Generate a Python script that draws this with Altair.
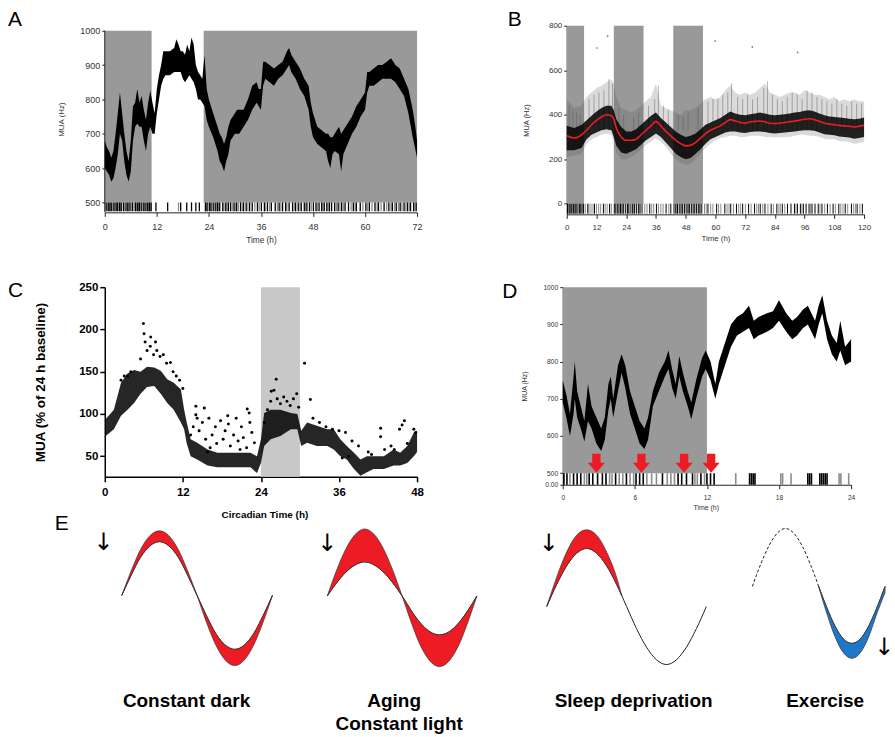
import altair as alt
import pandas as pd

FONT = "Liberation Sans"
TXT = "#333333"
SHADE = "#999999"
RED = "#ED1C24"
BLUE = "#1E78C8"

# ---------------- Panel A : MUA (Hz) over 72 h ----------------
A_t = [0, 0.5, 1, 1.5, 2, 2.5, 3, 3.5, 4, 4.5,
       5, 5.5, 6, 6.5, 7, 7.5, 8, 8.5, 9, 9.5,
       10, 10.5, 11, 11.5, 12, 12.5, 13, 13.5, 14, 15,
       16, 16.5, 17, 17.5, 18, 18.5, 19, 19.5, 20, 20.5,
       21, 21.5, 22, 22.5, 23, 23.5, 24, 25, 26, 26.5,
       27, 27.5, 28, 28.5, 29, 30, 30.5, 31, 32, 33,
       34, 35, 35.5, 36, 36.5, 37, 38, 39, 40, 41,
       42, 42.5, 43, 44, 45, 46, 47, 47.5, 48, 49,
       50, 51, 51.5, 52, 52.5, 53, 54, 54.5, 55, 56,
       57, 58, 59, 60, 60.5, 61, 62, 63, 64, 65,
       66, 67, 68, 69, 70, 71, 71.5, 72]
A_lo = [600, 590, 580, 560, 570, 600, 640, 700, 680, 620,
        580, 560, 590, 680, 720, 730, 720, 720, 680, 650,
        700, 720, 700, 700, 760, 800, 840, 860, 870, 870,
        880, 880, 880, 880, 860, 850, 860, 870, 860, 850,
        830, 800, 800, 790, 780, 740, 720, 690, 650, 620,
        610, 590, 620, 640, 680, 700, 700, 700, 720, 740,
        770, 790, 780, 770, 840, 860, 850, 840, 860, 870,
        890, 900, 880, 860, 830, 810, 770, 720, 690, 670,
        660, 650, 620, 600, 640, 650, 640, 590, 640, 670,
        700, 720, 750, 770, 820, 840, 840, 850, 860, 860,
        860, 850, 830, 810, 760, 690, 660, 630]
A_hi = [680, 660, 650, 630, 650, 700, 760, 820, 760, 700,
        650, 620, 680, 780, 790, 830, 790, 810, 770, 740,
        790, 825, 790, 760, 830, 870, 900, 940, 940, 940,
        950, 975, 960, 940, 940, 930, 960, 940, 980, 960,
        900, 880, 870, 860, 930, 830, 800, 760, 720, 700,
        690, 670, 690, 720, 740, 760, 770, 770, 770, 800,
        840, 850, 830, 830, 910, 910, 900, 890, 900, 910,
        940, 950, 930, 910, 890, 860, 840, 790, 760, 720,
        710, 700, 700, 690, 690, 700, 720, 700, 710, 730,
        750, 780, 800, 820, 880, 880, 890, 900, 900, 910,
        920, 900, 890, 860, 830, 770, 730, 680]
A_dark_start = [0, 22.8]
A_dark_end = [10.8, 72]
A_act_black = [0.3, 0.8, 1.2, 1.5, 2.1, 2.6, 2.9, 3.4, 3.8, 4.3, 4.9, 5.3, 5.8, 6.4,
               7.1, 7.6, 8.0, 8.4, 9.0, 9.5, 9.9, 10.3, 10.7, 11.8, 14.5, 17.5, 18.9,
               20.0, 21.0, 21.8, 23.2, 23.6, 24.1, 24.5, 25.0, 25.6, 26.0, 26.5, 27.2,
               27.9, 28.5, 29.0, 29.8, 30.4, 31.3, 32.0, 32.6, 33.4, 34.0, 35.2, 36.1,
               36.8, 37.5, 38.4, 39.3, 40.2, 41.0, 41.7, 42.5, 43.3, 44.0, 44.6, 45.3,
               46.0, 46.6, 47.2, 48.1, 48.7, 49.4, 50.0, 50.6, 51.2, 51.8, 52.3, 53.0,
               53.8, 54.6, 55.4, 56.2, 57.3, 58.0, 58.9, 60.2, 61.0, 62.3, 63.1, 64.4,
               65.5, 66.3, 67.2, 68.1, 69.0, 69.8, 70.5, 71.2, 71.8]
A_act_gray = [0.5, 1.0, 1.8, 2.3, 3.1, 3.6, 4.6, 5.5, 6.1, 6.8, 7.3, 7.8, 8.7, 9.2,
              10.0, 10.5, 17.0, 23.4, 24.3, 25.3, 26.2, 27.5, 28.2, 29.4, 30.1, 30.8,
              31.7, 33.0, 34.6, 35.6, 37.0, 38.0, 39.8, 40.6, 42.0, 43.7, 45.0, 46.3,
              47.6, 49.0, 50.3, 51.5, 53.4, 54.2, 55.0, 56.8, 57.7, 59.5, 60.6, 61.6,
              62.8, 63.7, 65.0, 66.0, 66.8, 67.7, 68.5, 69.4, 70.2, 71.5]

# ---------------- Panel B : MUA (Hz) over 120 h ----------------
B_t = [0, 3, 6, 8, 10, 12, 14, 16, 18, 19,
       20, 22, 24, 26, 28, 30, 32, 34, 36, 38,
       40, 42, 44, 46, 48, 50, 52, 54, 56, 58,
       60, 62, 64, 66, 68, 70, 72, 74, 76, 78,
       80, 82, 84, 86, 88, 90, 92, 94, 96, 98,
       100, 102, 104, 106, 108, 110, 112, 114, 116, 118,
       120]
B_red = [305, 295, 310, 330, 355, 375, 390, 400, 395, 380,
         340, 300, 285, 285, 290, 310, 330, 350, 370, 350,
         325, 305, 285, 270, 260, 262, 275, 295, 315, 330,
         340, 350, 365, 378, 372, 365, 362, 368, 370, 372,
         368, 362, 360, 362, 365, 368, 372, 375, 380, 382,
         378, 370, 362, 358, 355, 352, 350, 348, 345, 348,
         352]
B_core_lo = [240, 240, 250, 290, 310, 320, 330, 335, 330, 300,
             260, 230, 225, 235, 245, 265, 285, 300, 315, 300,
             275, 250, 225, 210, 200, 205, 225, 245, 270, 290,
             300, 310, 320, 325, 325, 320, 318, 322, 325, 325,
             322, 318, 315, 318, 320, 322, 325, 328, 330, 330,
             328, 320, 312, 310, 308, 302, 300, 298, 292, 295,
             300]
B_core_hi = [350, 340, 355, 375, 395, 415, 430, 440, 440, 420,
             380, 345, 325, 325, 335, 355, 375, 395, 410, 385,
             365, 345, 325, 310, 300, 305, 315, 335, 355, 365,
             375, 385, 400, 415, 405, 400, 398, 402, 405, 410,
             405, 400, 398, 400, 402, 405, 410, 412, 418, 420,
             415, 405, 398, 392, 390, 388, 385, 382, 380, 382,
             388]
B_out_lo = [210, 215, 225, 270, 290, 300, 310, 315, 310, 280,
            230, 200, 200, 210, 225, 245, 265, 280, 295, 280,
            255, 225, 200, 185, 175, 180, 200, 225, 250, 270,
            285, 295, 300, 305, 305, 300, 300, 305, 305, 305,
            300, 300, 298, 300, 300, 300, 305, 310, 310, 305,
            305, 300, 292, 290, 290, 282, 280, 278, 270, 272,
            280]
B_out_hi = [470, 430, 440, 480, 500, 520, 530, 545, 560, 540,
            480, 430, 420, 410, 420, 440, 460, 480, 540, 440,
            430, 420, 410, 400, 420, 420, 430, 450, 470, 480,
            470, 480, 510, 530, 500, 490, 500, 490, 500, 520,
            540, 500, 490, 480, 490, 500, 500, 490, 510, 500,
            490, 490, 480, 470, 480, 460, 470, 460, 470, 460,
            460]
B_streak_t = [1, 2.5, 4, 5.5, 9, 11, 13, 15, 17, 18.5,
              21, 23, 27, 29, 33, 35.5, 37, 39, 41, 45,
              47, 49, 53, 57, 59, 61, 63, 65, 66.5, 69,
              71, 73, 75, 77, 79.5, 81, 83, 85, 87, 89,
              91, 93, 95, 97, 99, 101, 103, 105, 107, 109,
              111, 113, 115, 117, 119]
B_streak_hi = [440, 420, 410, 400, 470, 490, 500, 510, 560, 540,
               430, 400, 390, 410, 440, 470, 530, 440, 420, 400,
               390, 410, 430, 460, 470, 470, 490, 500, 540, 480,
               470, 490, 470, 480, 520, 550, 490, 470, 460, 480,
               500, 490, 470, 510, 500, 480, 470, 460, 450, 470,
               450, 440, 460, 450, 450]
B_dot_t = [12.2, 16.5, 59.9, 74.9, 93.2]
B_dot_v = [700, 753, 731, 705, 680]
B_dark_start = [0, 19, 43]
B_dark_end = [7, 31, 55]
B_act_black = [0.3, 0.9, 1.4, 2.0, 2.7, 3.3, 3.8, 4.5, 5.1, 5.7, 6.2, 6.8, 8.5, 11.2,
               14.8, 17.3, 19.2, 19.8, 20.4, 21.1, 21.7, 22.3, 23.0, 23.8, 24.5, 25.1,
               25.9, 26.6, 27.4, 28.1, 28.9, 29.6, 30.4, 33.5, 36.2, 40.1, 42.0, 43.3,
               44.0, 44.7, 45.4, 46.1, 46.8, 47.5, 48.2, 48.9, 49.6, 50.3, 51.0, 51.7,
               52.4, 53.1, 53.8, 54.5, 57.0, 60.5, 63.8, 66.2, 68.5, 71.0, 73.4, 75.8,
               78.1, 80.0, 82.5, 84.8, 87.0, 89.1, 90.5, 91.9, 93.1, 94.3, 95.5, 96.6,
               97.8, 99.0, 100.2, 101.5, 103.0, 105.2, 107.5, 109.8, 112.4, 114.9,
               117.2, 119.3]
B_act_gray = [1.1, 2.4, 3.6, 5.4, 7.5, 9.0, 9.8, 10.6, 12.0, 12.9, 13.7, 15.5, 16.3,
              18.0, 20.7, 22.7, 24.8, 27.0, 29.2, 31.5, 32.4, 34.3, 35.1, 37.0, 38.0,
              38.9, 41.2, 44.4, 46.5, 49.2, 51.4, 53.5, 55.6, 56.3, 58.1, 59.0, 61.3,
              62.2, 64.7, 65.5, 67.3, 69.4, 70.2, 72.1, 74.4, 76.7, 77.4, 79.1, 81.2,
              83.4, 85.6, 86.2, 88.0, 92.5, 94.9, 98.4, 102.2, 104.1, 106.3, 108.4,
              110.6, 111.5, 113.4, 115.8, 116.5, 118.3]

# ---------------- Panel C : MUA (% of 24 h baseline) ----------------
C_t = [0.15, 1.4, 2.5, 3.5, 4.5, 5.5, 6.5, 7.6, 8.6, 9.6,
       10.6, 11.7, 12.2, 12.6, 13.2, 14.2, 15.8, 17.3, 20, 22.4,
       23.4, 24, 24.5, 25.5, 27, 28.6, 29.6, 30.2, 31.1, 32.6,
       34.2, 35.2, 36.2, 37.2, 38.3, 39.3, 40.3, 41.3, 42.9, 44.4,
       45.4, 46.5, 47.5, 48]
C_lo = [74, 82, 98, 105, 113, 124, 132, 133, 124, 113,
        105, 90, 82, 65, 50, 46, 39, 37, 37, 37,
        30, 42, 62, 70, 74, 82, 82, 62, 66, 62,
        62, 58, 50, 46, 35, 27, 31, 35, 35, 39,
        39, 42, 50, 55]
C_hi = [94, 105, 137, 148, 152, 150, 156, 155, 151, 141,
        137, 129, 105, 90, 70, 66, 58, 54, 54, 54,
        50, 70, 101, 105, 105, 101, 100, 80, 90, 86,
        82, 82, 70, 62, 54, 46, 50, 50, 50, 58,
        54, 62, 78, 80]
C_pt_t = [5.94, 6.04, 7.06, 10.1, 30.7, 26.35, 31.6, 29.5, 25.6, 26.0,
          14.0, 15.3, 14.0, 21.9, 22.2, 42.4, 42.4, 46.05, 45.7, 45.3,
          14.5, 15, 15.5, 16, 16.5, 17, 17.2, 17.8, 18.2, 18.5,
          19, 19.3, 19.8, 20.2, 20.5, 21, 21.3, 21.8, 22.3, 22.6,
          23, 16.2, 18.9, 20.8, 15.8, 13.6, 13.2, 14.2, 24.5, 25,
          25.5, 26.5, 27, 27.5, 28, 28.5, 29, 29.8, 5.5, 6.5,
          7, 7.5, 8, 8.5, 9, 6.2, 7.8, 9.5, 10.5, 11,
          11.5, 12, 4, 3.5, 3, 2.5, 32, 33, 34, 35,
          36, 37, 38, 39, 40.5, 41, 43, 44, 44.5, 46.5,
          47.5, 47.8, 37.5, 36.5]
C_pt_v = [207, 195, 191, 161, 160, 141, 117, 124, 127, 128,
          109, 107, 99, 106, 101, 83, 73, 92, 87, 82,
          80, 90, 70, 95, 75, 85, 65, 92, 70, 80,
          88, 62, 75, 95, 68, 85, 72, 60, 90, 78,
          66, 60, 98, 58, 55, 85, 75, 95, 90, 105,
          115, 118, 112, 120, 115, 110, 118, 108, 165, 175,
          180, 170, 175, 168, 170, 185, 185, 160, 150, 145,
          140, 130, 150, 145, 145, 140, 95, 90, 85, 82,
          80, 78, 68, 62, 55, 52, 58, 62, 58, 65,
          82, 78, 50, 48]
C_light_start = [24]
C_light_end = [30]
C_xtitle = "Circadian Time (h)"

# ---------------- Panel D : MUA (Hz) over 24 h ----------------
D_t = [0, 0.3, 0.6, 0.9, 1.0, 1.2, 1.5, 1.8, 2.1, 2.4,
       2.8, 3.2, 3.5, 3.8, 4.0, 4.2, 4.6, 4.9, 5.2, 5.6,
       6.0, 6.4, 6.8, 7.1, 7.5, 8.0, 8.5, 8.8, 9.1, 9.4,
       9.7, 10.0, 10.4, 10.7, 11.1, 11.6, 11.9, 12.3, 12.7, 13.0,
       13.5, 14.0, 14.5, 15.0, 15.5, 15.9, 16.3, 17.0, 17.5, 18.0,
       18.6, 19.1, 19.5, 20.0, 20.4, 21.0, 21.3, 21.6, 22.0, 22.4,
       22.8, 23.1, 23.5, 24.0]
D_lo = [690, 650, 600, 660, 700, 650, 620, 585, 640, 620,
        580, 560, 590, 670, 700, 650, 720, 770, 730, 660,
        620, 580, 565, 590, 680, 720, 760, 780, 730, 700,
        760, 720, 680, 645, 700, 760, 780, 750, 700, 740,
        790, 840, 870, 880, 890, 860, 870, 880, 890, 910,
        880, 860, 870, 890, 900, 860, 900, 930, 860, 820,
        800, 830, 790, 800]
D_hi = [750, 710, 660, 760, 800, 720, 680, 640, 740, 680,
        650, 620, 650, 740, 760, 700, 790, 820, 790, 720,
        680, 640, 620, 650, 720, 770, 800, 830, 780, 740,
        815, 770, 720, 690, 750, 810, 830, 800, 740, 800,
        850, 900, 920, 930, 950, 910, 920, 930, 935, 965,
        930, 910, 920, 940, 950, 910, 950, 978, 910, 870,
        850, 910, 840, 860]
D_dark_start = [0]
D_dark_end = [12]
D_arrow_t = [2.8, 6.55, 10.1, 12.35]
D_arrow_v = [527, 527, 527, 527]
D_act_black = [0.1, 0.35, 0.9, 1.2, 1.5, 2.2, 2.5, 2.9, 3.3, 3.6, 4.4, 5.3, 6.1, 6.4,
               6.7, 8.3, 9.6, 9.9, 10.3, 10.8, 11.5, 12.0, 12.3, 12.6, 15.55, 15.7,
               15.85, 16.0, 20.4, 20.55, 20.7, 21.4, 21.55, 21.7, 21.85, 22.0]
D_act_gray = [0.6, 1.8, 2.0, 3.9, 4.1, 4.7, 5.0, 5.6, 5.9, 7.0, 7.4, 7.8, 8.7, 9.0,
              9.3, 11.0, 11.2, 11.8, 14.4, 18.15, 18.3, 19.0, 23.0, 23.15, 23.8]
D_xtitle = "Time (h)"

# ---------------- Panel E : schematic rhythms ----------------
E_p = [0, 0.0625, 0.125, 0.1875, 0.25, 0.3125, 0.375, 0.4375, 0.5,
       0.5625, 0.625, 0.6875, 0.75, 0.8125, 0.875, 0.9375, 1]
E1_base = [0, .34, .64, .83, .9, .83, .64, .34, 0, -.34, -.64, -.83, -.9, -.83, -.64, -.34, 0]
E1_outer = [0, .41, .77, 1.0, 1.08, 1.0, .77, .41, 0, -.45, -.83, -1.08, -1.17, -1.08, -.83, -.45, 0]
E2_base = [0, .22, .40, .52, .57, .52, .40, .22, 0, -.25, -.46, -.60, -.65, -.60, -.46, -.25, 0]
E2_outer = [0, .43, .79, 1.03, 1.12, 1.03, .79, .43, 0, -.45, -.84, -1.09, -1.18, -1.09, -.84, -.45, 0]
E3_base = [0, .37, .68, .89, .97, .89, .68, .37, 0, -.37, -.68, -.89, -.97, -.89, -.68, -.37, 0]
E3_fill_p = [0, 0.0625, 0.125, 0.1875, 0.25, 0.3125, 0.375, 0.4375, 0.47]
E3_fill_lo = [0, .37, .68, .89, .97, .89, .68, .37, .18]
E3_fill_hi = [0, .49, .91, 1.19, 1.28, 1.19, .91, .49, .18]
E4_base = [0, .37, .68, .89, .97, .89, .68, .37, 0, -.36, -.67, -.88, -.95, -.88, -.67, -.36, 0]
E4_fill_p = [0.5, 0.5625, 0.625, 0.6875, 0.75, 0.8125, 0.875, 0.9375, 1]
E4_fill_lo = [0, -.36, -.67, -.88, -.95, -.88, -.67, -.36, 0]
E4_fill_hi = [0, -.46, -.85, -1.11, -1.2, -1.11, -.85, -.46, -.1]
E_labels = ["Constant dark", "Aging", "Constant light", "Sleep deprivation", "Exercise"]


# ---------------- helpers ----------------
def small_axis(values, title, lsize, tsize, **kw):
    base = dict(values=values, title=title, format="d", labelFont=FONT, labelFontSize=lsize,
                labelColor=TXT, titleFont=FONT, titleFontSize=tsize,
                titleFontWeight="normal", titleColor=TXT, domainColor="#222222",
                tickColor="#222222", tickSize=3, labelPadding=2, grid=False,
                labelFlush=False, labelOverlap=False)
    base.update(kw)
    return alt.Axis(**base)


def bold_axis(values, title, **kw):
    base = dict(values=values, title=title, format="d", labelFont=FONT, labelFontSize=11.5,
                labelFontWeight="bold", labelColor="black", titleFont=FONT,
                titleFontWeight="bold", titleColor="black", domainColor="black",
                domainWidth=1.5, tickColor="black", tickWidth=1.5, tickSize=5,
                labelPadding=2, grid=False, labelFlush=False, labelOverlap=False)
    base.update(kw)
    return alt.Axis(**base)


def letter(ch, dx, dy):
    return alt.Chart(pd.DataFrame({"L": [ch]})).mark_text(
        align="left", baseline="alphabetic", font=FONT, fontSize=21, color="black"
    ).encode(text="L:N", x=alt.value(dx), y=alt.value(dy))


def panel_enc(xsc, xax, ysc, yax):
    X = lambda f: alt.X(f, type="quantitative", scale=xsc, axis=xax)
    Y = lambda f: alt.Y(f, type="quantitative", scale=ysc, axis=yax)
    YD = lambda v: alt.YDatum(v, type="quantitative", scale=ysc, axis=yax)
    return X, Y, YD


def rules(times, X, YD, y1, y2, color, w=1.3):
    return alt.Chart(pd.DataFrame({"t": times})).mark_rule(color=color, strokeWidth=w).encode(
        x=X("t"), y=YD(y1), y2=alt.datum(y2))


def shade(starts, ends, X, YD, y1, y2, color):
    return alt.Chart(pd.DataFrame({"s": starts, "e": ends})).mark_rect(color=color).encode(
        x=X("s"), x2="e", y=YD(y1), y2=alt.datum(y2))


# ---------------- Panel A chart ----------------
XA, YA, YDA = panel_enc(
    alt.Scale(domain=[0, 72], nice=False, zero=False),
    small_axis([0, 12, 24, 36, 48, 60, 72], "Time (h)", 9, 8.3, tickSize=4,
               labelPadding=6, titlePadding=4),
    alt.Scale(domain=[471, 1014.5], nice=False, zero=False),
    small_axis([500, 600, 700, 800, 900, 1000], "MUA (Hz)", 9, 8, titlePadding=14,
               domain=False))

bandA = alt.Chart(pd.DataFrame({"t": A_t, "lo": A_lo, "hi": A_hi})).mark_area(
    color="black").encode(x=XA("t"), y=YA("lo"), y2="hi")
axislineA = alt.Chart(pd.DataFrame({"x0": [0]})).mark_rule(color="#222222", strokeWidth=1).encode(
    x=XA("x0"), y=YDA(471), y2=alt.datum(1000))
chartA = alt.layer(
    shade(A_dark_start, A_dark_end, XA, YDA, 1000, 500, SHADE), bandA,
    rules(A_act_gray, XA, YDA, 500, 474, "#8c8c8c"),
    rules(A_act_black, XA, YDA, 500, 474, "black"),
    axislineA,
    letter("A", -97, 0.7),
).properties(width=313, height=187)

# ---------------- Panel B chart ----------------
XB, YB, YDB = panel_enc(
    alt.Scale(domain=[0, 120], nice=False, zero=False),
    small_axis(list(range(0, 121, 12)), "Time (h)", 8, 7.9, tickSize=4,
               labelPadding=5, titlePadding=3.5),
    alt.Scale(domain=[-48, 800], nice=False, zero=False),
    small_axis([0, 200, 400, 600, 800], "MUA (Hz)", 8, 7.5, titlePadding=17.5))

dfB = pd.DataFrame({"t": B_t, "red": B_red, "clo": B_core_lo, "chi": B_core_hi,
                    "olo": B_out_lo, "ohi": B_out_hi})
outerB = alt.Chart(dfB).mark_area(color="#444444", opacity=0.2).encode(
    x=XB("t"), y=YB("olo"), y2="ohi")
streakB = alt.Chart(pd.DataFrame({"t": B_streak_t, "hi": B_streak_hi})).mark_rule(
    color="#555555", strokeWidth=0.8, opacity=0.55).encode(
    x=XB("t"), y=YB("hi"), y2=alt.datum(330))
coreB = alt.Chart(dfB).mark_area(color="black", opacity=0.85).encode(
    x=XB("t"), y=YB("clo"), y2="chi")
redB = alt.Chart(dfB).mark_line(color=RED, strokeWidth=1.6, interpolate="monotone").encode(
    x=XB("t"), y=YB("red"))
dotsB = alt.Chart(pd.DataFrame({"t": B_dot_t, "v": B_dot_v})).mark_circle(
    color="#777777", size=3, opacity=1).encode(x=XB("t"), y=YB("v"))
chartB = alt.layer(
    shade(B_dark_start, B_dark_end, XB, YDB, 800, 0, SHADE), outerB, streakB, coreB, redB,
    dotsB,
    rules(B_act_gray, XB, YDB, 0, -45, "#8c8c8c", 1.0),
    rules(B_act_black, XB, YDB, 0, -45, "black", 1.0),
    letter("B", -59, 0.7),
).properties(width=298, height=189)

# ---------------- Panel C chart ----------------
XC, YC, YDC = panel_enc(
    alt.Scale(domain=[0, 48], nice=False, zero=False),
    bold_axis([0, 12, 24, 36, 48], None, labelPadding=5),
    alt.Scale(domain=[25.7, 250], nice=False, zero=False),
    bold_axis([50, 100, 150, 200, 250], "MUA (% of 24 h baseline)", titleFontSize=13.5,
              titlePadding=31))

bandC = alt.Chart(pd.DataFrame({"t": C_t, "lo": C_lo, "hi": C_hi})).mark_area(
    color="black", opacity=0.85).encode(x=XC("t"), y=YC("lo"), y2="hi")
ptsC = alt.Chart(pd.DataFrame({"t": C_pt_t, "v": C_pt_v})).mark_circle(
    color="black", size=9, opacity=1).encode(x=XC("t"), y=YC("v"))
chartC = alt.layer(shade(C_light_start, C_light_end, XC, YDC, 250, 25.7, "#c8c8c8"),
                   bandC, ptsC, letter("C", -97, 10.2)).properties(width=313, height=190)

# ---------------- Panel D chart ----------------
XD, YD_, YDD = panel_enc(
    alt.Scale(domain=[0, 24], nice=False, zero=False),
    small_axis([0, 6, 12, 18, 24], None, 6.7, 7, tickSize=4, labelPadding=6),
    alt.Scale(domain=[469, 1000], nice=False, zero=False),
    small_axis([469, 500, 600, 700, 800, 900, 1000], "MUA (Hz)", 6.7, 7,
               titlePadding=15, labelExpr="datum.value < 480 ? '0.00' : datum.label"))

ARROW = "M-0.44,-1L0.44,-1L0.44,-0.05L0.9,-0.05L0,1L-0.9,-0.05L-0.44,-0.05Z"
bandD = alt.Chart(pd.DataFrame({"t": D_t, "lo": D_lo, "hi": D_hi})).mark_area(
    color="black").encode(x=XD("t"), y=YD_("lo"), y2="hi")
arrowsD = alt.Chart(pd.DataFrame({"t": D_arrow_t, "v": D_arrow_v})).mark_point(
    shape=ARROW, size=361, filled=True, color=RED, opacity=1, strokeWidth=0).encode(
    x=XD("t"), y=YD_("v"))
chartD = alt.layer(
    shade(D_dark_start, D_dark_end, XD, YDD, 1000, 500, SHADE), bandD,
    rules(D_act_gray, XD, YDD, 500, 469, "#8c8c8c", 1.6),
    rules(D_act_black, XD, YDD, 500, 469, "black", 1.6),
    arrowsD,
    letter("D", -60.6, 10.7),
).properties(width=289, height=198)


# ---------------- Panel E charts ----------------
EH = 230


def e_cell(xdom, ydom, width, base_p, base_v, fill_p, fill_lo, fill_hi, fill_color,
           texts, dashed_upto=None):
    xs = alt.Scale(domain=xdom, nice=False, zero=False)
    ys = alt.Scale(domain=ydom, nice=False, zero=False)
    X = lambda f: alt.X(f, type="quantitative", scale=xs, axis=None)
    Y = lambda f: alt.Y(f, type="quantitative", scale=ys, axis=None)
    XDt = lambda v: alt.XDatum(v, type="quantitative", scale=xs, axis=None)
    YDt = lambda v: alt.YDatum(v, type="quantitative", scale=ys, axis=None)
    layers = []
    dfb = pd.DataFrame({"p": base_p, "v": base_v})
    if dashed_upto is None:
        layers.append(alt.Chart(dfb).mark_line(color="#222222", strokeWidth=1,
                                               interpolate="monotone").encode(x=X("p"), y=Y("v")))
    else:
        layers.append(alt.Chart(dfb[dfb.p <= dashed_upto]).mark_line(
            color="#222222", strokeWidth=1, strokeDash=[3, 2],
            interpolate="monotone").encode(x=X("p"), y=Y("v")))
        layers.append(alt.Chart(dfb[dfb.p >= dashed_upto]).mark_line(
            color="#222222", strokeWidth=1, interpolate="monotone").encode(x=X("p"), y=Y("v")))
    layers.append(alt.Chart(pd.DataFrame({"p": fill_p, "lo": fill_lo, "hi": fill_hi})).mark_area(
        color=fill_color, stroke="#333333", strokeWidth=0.7, interpolate="monotone",
        opacity=1).encode(x=X("p"), y=Y("lo"), y2="hi"))
    for (txt, px, py, kind) in texts:
        if kind == "arrow":
            m = alt.Chart(pd.DataFrame({"s": [txt]})).mark_text(
                font="DejaVu Sans", fontSize=24, color="black", align="center",
                baseline="middle")
        elif kind == "letter":
            m = alt.Chart(pd.DataFrame({"s": [txt]})).mark_text(
                font=FONT, fontSize=21, color="black", align="left", baseline="alphabetic")
        elif kind == "ctitle":
            m = alt.Chart(pd.DataFrame({"s": [txt]})).mark_text(
                font=FONT, fontSize=10, fontWeight="bold", color="black", align="center",
                baseline="middle")
        elif kind == "dtitle":
            m = alt.Chart(pd.DataFrame({"s": [txt]})).mark_text(
                font=FONT, fontSize=7, color=TXT, align="center", baseline="middle")
        else:
            m = alt.Chart(pd.DataFrame({"s": [txt]})).mark_text(
                font=FONT, fontSize=19, fontWeight="bold", color="black", align="center",
                baseline="middle")
        layers.append(m.encode(text="s:N", x=XDt(px), y=YDt(py)))
    return alt.layer(*layers).properties(width=width, height=EH)


E1 = e_cell([-0.1126, 1.258], [-2.267, 1.567], 207, E_p, E1_base, E_p, E1_base, E1_outer, RED,
            [(C_xtitle, 0.95, 1.338, "ctitle"),
             ("E", -0.444, 1.088, "letter"), ("↓", -0.12, 0.87, "arrow"),
             (E_labels[0], 0.43, -1.767, "label")])
E2 = e_cell([-0.1067, 1.2467], [-2.258, 1.575], 203, E_p, E2_base, E_p, E2_base, E2_outer, RED,
            [("↓", 0.0, 0.875, "arrow"), (E_labels[1], 0.447, -1.758, "label"),
             (E_labels[2], 0.48, -2.142, "label")])
E3 = e_cell([-0.206, 1.169], [-2.083, 1.75], 220, E_p, E3_base, E3_fill_p, E3_fill_lo, E3_fill_hi,
            RED, [(D_xtitle, 0.999, 1.65, "dtitle"),
                  ("↓", 0.0125, 1.05, "arrow"), (E_labels[3], 0.544, -1.583, "label")])
E4 = e_cell([-0.143, 1.045], [-2.417, 1.417], 158, E_p, E4_base, E4_fill_p, E4_fill_lo,
            E4_fill_hi, BLUE,
            [("↓", 0.995, -1.033, "arrow"), (E_labels[4], 0.549, -1.917, "label")],
            dashed_upto=0.5)

row1 = alt.hconcat(chartA, chartB, spacing=85)
row2 = alt.hconcat(chartC, chartD, spacing=78)
top = alt.vconcat(row1, row2, spacing=36)
rowE = alt.hconcat(E1, E2, E3, E4, spacing=0)

chart = alt.vconcat(top, rowE, spacing=0).properties(
    padding={"left": 8, "top": 8, "right": 0, "bottom": 0}
).configure_view(stroke=None)

chart.save("out.html", embed_options={"renderer": "svg", "actions": False})
